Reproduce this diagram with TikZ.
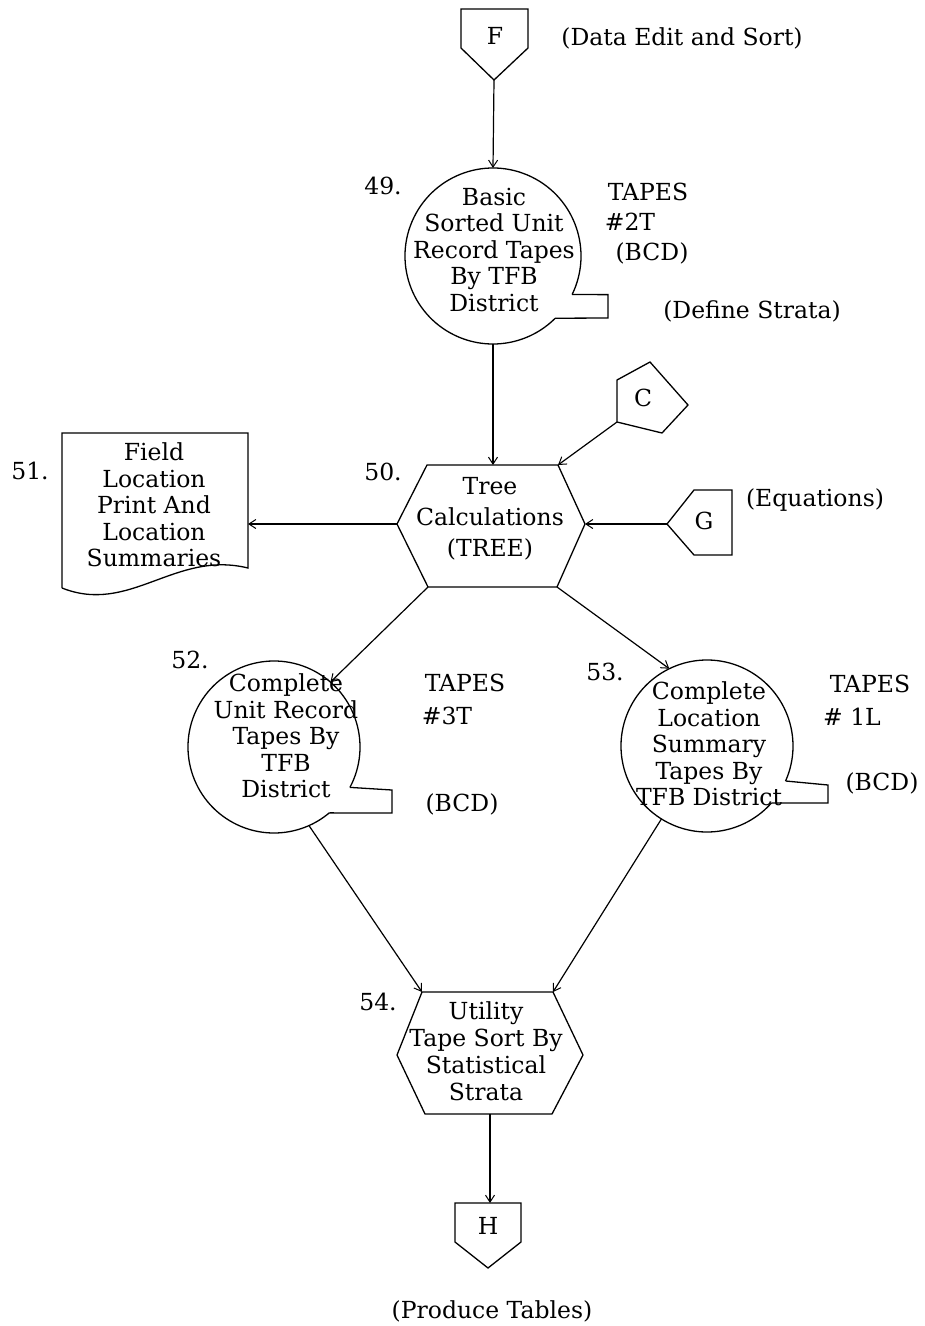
\documentclass[tikz,border=0pt]{standalone}
\usepackage{fontspec}
\setmainfont{DejaVu Serif}
\usetikzlibrary{arrows.meta}
\begin{document}
\begin{tikzpicture}[x=1pt,y=-1pt,
  shp/.style={line width=1.3pt, line join=miter},
  conn/.style={line width=1.2pt, -{Straight Barb[length=7pt,width=9pt,line width=1pt]}},
  txt/.style={font=\fontsize{23.5}{26.5}\selectfont, inner sep=0pt, align=center},
  tape/.style={circle, minimum size=#1, inner sep=0pt, outer sep=0pt},
]
\useasboundingbox[fill=white] (0,0) rectangle (925,1326);

% F connector
\draw[shp] (461,9) -- (528,9) -- (528,48) -- (494,80) coordinate (Ftip) -- (461,48) -- cycle;
\node[txt] (Ftxt) at (495,36) {F};
\node[txt] (Flbl) at (682,38) {(Data Edit and Sort)};

% 49 tape
\node[tape=176pt] (c49) at (493,256) {};
\draw[shp] (c49.center) ++(26:88) coordinate (t49a) arc[start angle=26, end angle=-315, radius=88] coordinate (t49b);
\draw[shp] (t49a) -- (608,294.6) -- (608,318) -- (t49b);
\node[txt] (n49) at (383,186) {49.};
\node[txt] (t49) at (494,250) {Basic\\Sorted Unit\\Record Tapes\\By TFB\\District};
\node[txt] (tp49) at (648,192) {TAPES};
\node[txt] (no49) at (630,222) {\#2T};
\node[txt] (bcd49) at (652,253) {(BCD)};
\node[txt] (strata) at (752,311) {(Define Strata)};

% C connector
\draw[shp] (617,380) -- (650,362) -- (688,405) -- (662,433) -- (617,422) coordinate (Cbl) -- cycle;
\node[txt] (Ctxt) at (643,398) {C};

% G connector
\draw[shp] (667,524) coordinate (Gl) -- (694,490) -- (732,490) -- (732,555) -- (694,555) -- cycle;
\node[txt] (Gtxt) at (704,521) {G};
\node[txt] (eq) at (815,500) {(Equations)};

% 50 hexagon
\draw[shp] (427,465) coordinate (h50tl) -- (558,465) coordinate (h50tr) -- (585,524) coordinate (h50r)
  -- (557,587) coordinate (h50br) -- (428,587) coordinate (h50bl) -- (397,524) coordinate (h50l) -- cycle;
\coordinate (h50t) at (493,465);
\node[txt] (n50) at (383,472) {50.};
\node[txt, font=\fontsize{23.5}{31}\selectfont] (t50) at (490,519) {Tree\\Calculations\\(TREE)};

% 51 document
\draw[shp] (62,588) -- (62,433) -- (248,433) -- (248,568) .. controls (175,550) and (130,615) .. (62,588);
\coordinate (d51r) at (248,524);
\node[txt] (n51) at (30,471) {51.};
\node[txt] (t51) at (154,505) {Field\\Location\\Print And\\Location\\Summaries};

% 52 tape
\node[tape=172pt] (c52) at (274,747) {};
\draw[shp] (c52.center) ++(28:86) coordinate (t52a) arc[start angle=28, end angle=-310, radius=86] coordinate (t52b);
\draw[shp] (t52a) -- (392,790) -- (392,813) -- (t52b);
\node[txt] (n52) at (190,660) {52.};
\node[txt] (t52) at (286,736) {Complete\\Unit Record\\Tapes By\\TFB\\District};
\node[txt] (tp52) at (465,683) {TAPES};
\node[txt] (no52) at (447,716) {\#3T};
\node[txt] (bcd52) at (462,804) {(BCD)};

% 53 tape
\node[tape=172pt] (c53) at (707,746) {};
\draw[shp] (c53.center) ++(24:86) coordinate (t53a) arc[start angle=24, end angle=-318.5, radius=86] coordinate (t53b);
\draw[shp] (t53a) -- (828,785) -- (828,803) -- (t53b);
\node[txt] (n53) at (605,672) {53.};
\node[txt] (t53) at (709,744) {Complete\\Location\\Summary\\Tapes By\\TFB District};
\node[txt] (tp53) at (870,684) {TAPES};
\node[txt] (no53) at (852,717) {\# 1L};
\node[txt] (bcd53) at (882,783) {(BCD)};

% 54 hexagon
\draw[shp] (422,992) coordinate (h54tl) -- (553,992) coordinate (h54tr) -- (583,1055) coordinate (h54r)
  -- (552,1114) coordinate (h54br) -- (425,1114) coordinate (h54bl) -- (397,1055) coordinate (h54l) -- cycle;
\coordinate (h54b) at (490,1114);
\node[txt] (n54) at (378,1002) {54.};
\node[txt, font=\fontsize{23.5}{27}\selectfont] (t54) at (486,1051) {Utility\\Tape Sort By\\Statistical\\Strata};

% H connector
\draw[shp] (455,1203) coordinate (Htl) -- (521,1203) -- (521,1242) -- (488,1268) -- (455,1242) -- cycle;
\coordinate (Htop) at (490,1203);
\node[txt] (Htxt) at (488,1226) {H};
\node[txt] (prod) at (492,1311) {(Produce Tables)};

% connectors
\draw[conn] (Ftip) -- (c49.north);
\draw[conn] (c49.south) -- (h50t);
\draw[conn] (Cbl) -- (h50tr);
\draw[conn] (Gl) -- (h50r);
\draw[conn] (h50l) -- (d51r);
\draw[conn] (h50bl) -- (c52.49);
\draw[conn] (h50br) -- (c53.116);
\draw[conn] (c52.-66) -- (h54tl);
\draw[conn] (c53.-122) -- (h54tr);
\draw[conn] (h54b) -- (Htop);
\end{tikzpicture}
\end{document}
